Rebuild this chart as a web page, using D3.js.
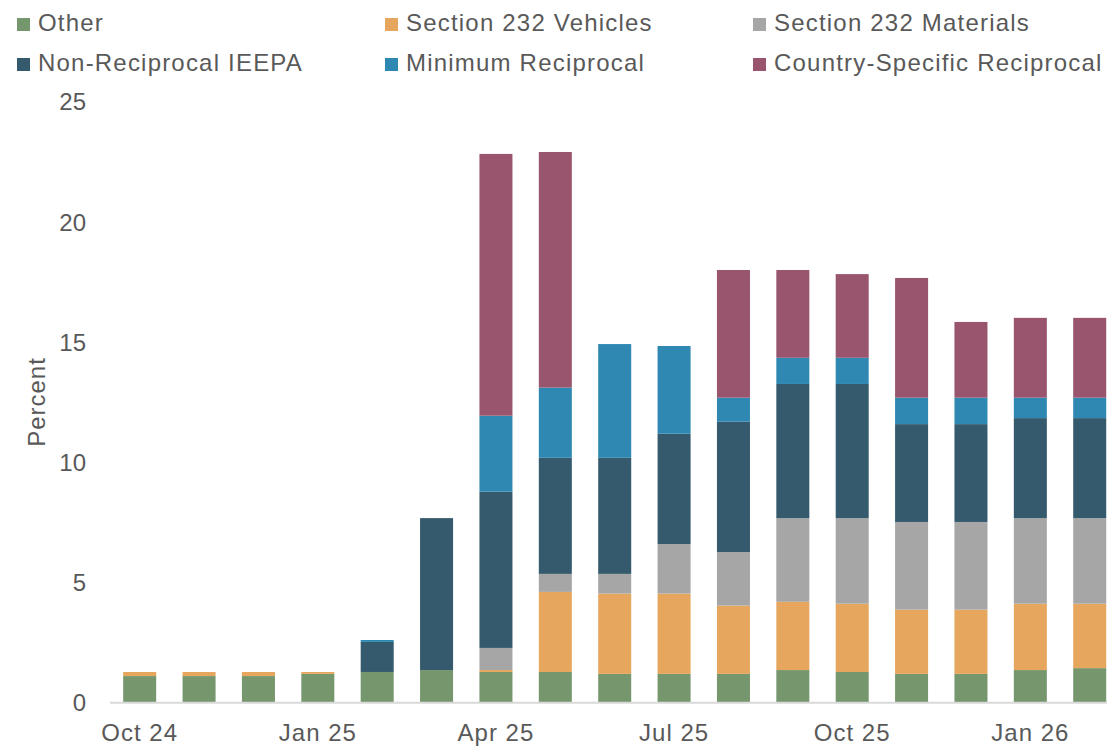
<!DOCTYPE html>
<html>
<head>
<meta charset="utf-8">
<script src="https://cdn.jsdelivr.net/npm/d3@7"></script>
<style>
  html, body { margin: 0; padding: 0; background: #fff; }
  svg { display: block; }
  text { font-family: "Liberation Sans", Arial, sans-serif; fill: #595959; }
</style>
</head>
<body>
<svg id="chart" width="1107" height="746"></svg>
<script>
// ---- Data ----
const months = ["Oct 24","Nov 24","Dec 24","Jan 25","Feb 25","Mar 25","Apr 25","May 25","Jun 25",
                "Jul 25","Aug 25","Sep 25","Oct 25","Nov 25","Dec 25","Jan 26","Feb 26"];
const tickLabels = ["Oct 24","Jan 25","Apr 25","Jul 25","Oct 25","Jan 26"];
const yTicks = [0, 5, 10, 15, 20, 25];

const seriesNames = ["Other","Section 232 Vehicles","Section 232 Materials",
                     "Non-Reciprocal IEEPA","Minimum Reciprocal","Country-Specific Reciprocal"];
const seriesColors = ["#76976E","#E7A65D","#A6A6A6","#355A6E","#2E88B1","#99546E"];

const other           = [1.10,1.10,1.10,1.19,1.27,1.35,1.27,1.27,1.19,1.19,1.19,1.35,1.27,1.19,1.19,1.35,1.43];
const s232Vehicles    = [0.17,0.17,0.17,0.08,0.00,0.00,0.08,3.33,3.34,3.34,2.84,2.84,2.84,2.67,2.67,2.76,2.68];
const s232Materials   = [0,0,0,0,0,0,0.92,0.75,0.82,2.06,2.23,3.48,3.56,3.65,3.65,3.56,3.56];
const nonReciprocal   = [0,0,0,0,1.25,6.32,6.50,4.83,4.83,4.59,5.42,5.58,5.58,4.07,4.07,4.16,4.16];
const minReciprocal   = [0,0,0,0,0.08,0,3.16,2.92,4.73,3.65,1.00,1.09,1.09,1.10,1.10,0.85,0.85];
const countrySpecific = [0,0,0,0,0,0,10.89,9.80,0,0,5.31,3.65,3.48,4.98,3.15,3.32,3.32];

// ---- Build table ----
const valueArrays = [other, s232Vehicles, s232Materials, nonReciprocal, minReciprocal, countrySpecific];
const table = months.map((m, i) => {
  const row = { month: m };
  seriesNames.forEach((s, k) => row[s] = valueArrays[k][i]);
  return row;
});

const svg = d3.select("#chart");

const x = d3.scaleBand().domain(months).range([110, 1119.4]).paddingInner(0.444).paddingOuter(0.222);
const y = d3.scaleLinear().domain([0, 25]).range([702.5, 101.5]);
const color = d3.scaleOrdinal().domain(seriesNames).range(seriesColors);

const stacked = d3.stack().keys(seriesNames)(table);

// bars
svg.append("g").selectAll("g").data(stacked).join("g")
  .attr("fill", d => color(d.key))
  .selectAll("rect").data(d => d).join("rect")
  .attr("x", d => x(d.data.month))
  .attr("width", x.bandwidth())
  .attr("y", d => y(d[1]))
  .attr("height", d => Math.max(0, y(d[0]) - y(d[1])));

// x axis baseline
svg.append("line")
  .attr("x1", x.range()[0]).attr("x2", x.range()[1])
  .attr("y1", y(0) + 0.3).attr("y2", y(0) + 0.3)
  .attr("stroke", "#D9D9D9").attr("stroke-width", 2);

// x tick labels
const xAxis = d3.axisBottom(x).tickValues(tickLabels).tickSize(0).tickPadding(0);
const gx = svg.append("g").attr("transform", `translate(0, 741)`).call(xAxis);
gx.select(".domain").remove();
gx.selectAll("text")
  .attr("y", 0).attr("dy", 0)
  .style("font-size", "24px").style("letter-spacing", "1px")
  .attr("fill", "#595959");

// y tick labels
const yAxis = d3.axisLeft(y).tickValues(yTicks).tickSize(0).tickPadding(0);
const gy = svg.append("g").attr("transform", `translate(86, 0)`).call(yAxis);
gy.select(".domain").remove();
gy.selectAll("text")
  .attr("x", 0).attr("dy", "0.35em")
  .style("font-size", "24px")
  .attr("fill", "#595959");

// y axis title
svg.append("text")
  .attr("transform", "translate(45, 402) rotate(-90)")
  .attr("text-anchor", "middle")
  .style("font-size", "24px").style("letter-spacing", "1px")
  .text("Percent");

// legend
const legendX = [17, 385, 753];
const legendY = [31, 71];
const legend = svg.append("g").selectAll("g").data(seriesNames).join("g")
  .attr("transform", (d, i) => `translate(${legendX[i % 3]}, ${legendY[Math.floor(i / 3)]})`);
legend.append("rect")
  .attr("x", 0).attr("y", -13).attr("width", 13).attr("height", 13)
  .attr("fill", d => color(d));
legend.append("text")
  .attr("x", 21).attr("y", 0)
  .style("font-size", "24px").style("letter-spacing", "1.2px")
  .text(d => d);
</script>
</body>
</html>
